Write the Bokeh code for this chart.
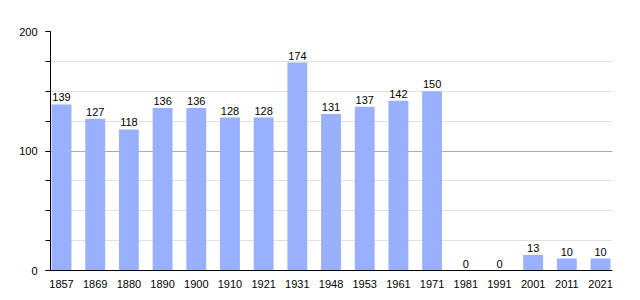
from bokeh.plotting import figure
from bokeh.models import ColumnDataSource, FixedTicker, Range1d, LabelSet
from bokeh.core.properties import value
from bokeh.embed import file_html
from bokeh.resources import INLINE

years = ["1857", "1869", "1880", "1890", "1900", "1910", "1921", "1931", "1948",
         "1953", "1961", "1971", "1981", "1991", "2001", "2011", "2021"]
population = [139, 127, 118, 136, 136, 128, 128, 174, 131, 137, 142, 150, 0, 0, 13, 10, 10]

xs = list(range(len(years)))
src = ColumnDataSource(dict(x=xs, y=population, lab=[str(v) for v in population]))

p = figure(width=640, height=300, output_backend="svg", toolbar_location=None,
           x_range=Range1d(-0.327, 16.355), y_range=Range1d(0, 200),
           min_border_left=50, min_border_right=28, min_border_top=31, min_border_bottom=30)
p.outline_line_color = None
p.background_fill_color = "white"
p.border_fill_color = "white"

p.vbar(x="x", top="y", width=0.59, source=src, color="#99b0ff", line_color=None)

labels = LabelSet(x="x", y="y", text="lab", source=src, text_align="center",
                  text_baseline="bottom", y_offset=3, text_font_size="11px",
                  text_font=value("Liberation Sans"), text_color="black")
p.add_layout(labels)

# y axis
p.yaxis.ticker = FixedTicker(ticks=[0, 100, 200], minor_ticks=list(range(0, 201, 25)))
p.yaxis.axis_line_color = "black"
p.yaxis.major_tick_line_color = "black"
p.yaxis.minor_tick_line_color = "black"
p.yaxis.major_tick_out = 5
p.yaxis.major_tick_in = 0
p.yaxis.minor_tick_out = 5
p.yaxis.minor_tick_in = 0
p.yaxis.major_label_text_font = "Liberation Sans"
p.yaxis.major_label_text_font_size = "11px"
p.yaxis.major_label_text_color = "black"
p.yaxis.major_label_standoff = 8

# x axis
p.xaxis.ticker = FixedTicker(ticks=xs)
p.xaxis.major_label_overrides = {i: y for i, y in zip(xs, years)}
p.xaxis.axis_line_color = "black"
p.xaxis.major_tick_line_color = None
p.xaxis.minor_tick_line_color = None
p.xaxis.major_label_text_font = "Liberation Sans"
p.xaxis.major_label_text_font_size = "11px"
p.xaxis.major_label_text_color = "black"
p.xaxis.major_label_standoff = 3

# grid
p.xgrid.grid_line_color = None
p.ygrid.grid_line_color = "#aaaaaa"
p.ygrid.minor_grid_line_color = "#e0e0e0"

open("out.html", "w").write(file_html(p, INLINE))
